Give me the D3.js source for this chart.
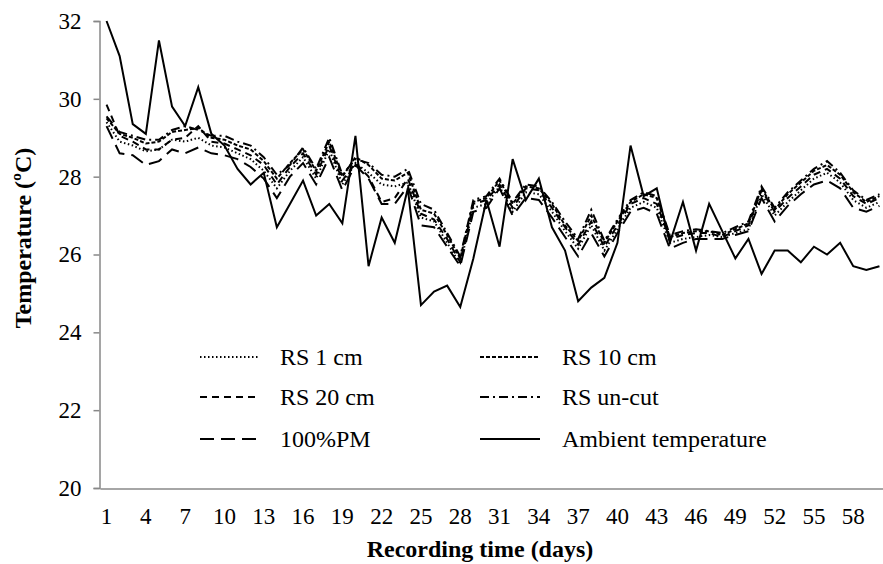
<!DOCTYPE html>
<html><head><meta charset="utf-8">
<script src="https://cdn.jsdelivr.net/npm/d3@7/dist/d3.min.js"></script>
<style>body{margin:0;background:#fff}svg{display:block}</style>
</head><body>
<svg id="c" width="883" height="564"></svg>
<script>
const days = d3.range(1, 61);
const xTickLabels = [1,4,7,10,13,16,19,22,25,28,31,34,37,40,43,46,49,52,55,58];
const yTicks = [20,22,24,26,28,30,32];

const rs1cm = [29.4,28.9,28.8,28.65,28.7,28.95,28.9,29.0,28.8,28.75,28.6,28.45,28.15,27.7,28.15,28.5,27.95,28.7,27.8,28.35,28.1,27.8,27.75,27.85,26.95,26.85,26.3,25.75,27.2,27.3,27.75,27.1,27.6,27.55,27.1,26.6,26.15,26.75,26.1,26.65,27.2,27.35,27.2,26.3,26.4,26.45,26.5,26.45,26.55,26.65,27.55,27.0,27.35,27.65,27.95,28.1,27.85,27.4,27.2,27.35];
const rs10cm = [29.5,29.1,29.0,28.85,28.9,29.15,29.2,29.25,29.0,28.95,28.8,28.7,28.4,27.95,28.35,28.7,28.15,28.9,28.0,28.5,28.3,27.95,27.9,28.1,27.15,27.05,26.5,25.9,27.35,27.45,27.9,27.3,27.75,27.7,27.3,26.75,26.35,27.0,26.3,26.85,27.35,27.55,27.45,26.45,26.55,26.6,26.6,26.5,26.65,26.8,27.7,27.15,27.55,27.85,28.15,28.3,28.05,27.6,27.35,27.5];
const rs20cm = [29.85,29.05,28.9,28.7,28.7,28.95,29.0,29.3,28.9,28.85,28.7,28.55,28.3,27.8,28.25,28.6,28.05,28.8,27.9,28.35,28.0,27.35,27.45,27.95,27.05,26.9,26.4,25.8,27.3,27.4,27.8,27.2,27.7,27.65,27.2,26.7,26.25,26.85,26.2,26.75,27.3,27.45,27.3,26.4,26.5,26.55,26.55,26.45,26.6,26.75,27.65,27.1,27.45,27.75,28.05,28.2,27.95,27.5,27.3,27.45];
const rsUncut = [29.55,29.15,29.05,28.95,28.95,29.2,29.3,29.2,29.05,29.05,28.9,28.8,28.5,28.05,28.3,28.75,28.2,29.0,28.05,28.45,28.35,28.05,28.0,28.2,27.3,27.15,26.55,25.95,27.4,27.5,27.95,27.35,27.8,27.75,27.35,26.85,26.4,27.15,26.35,26.9,27.4,27.6,27.5,26.5,26.6,26.65,26.6,26.55,26.7,26.85,27.75,27.2,27.6,27.9,28.2,28.4,28.1,27.65,27.4,27.55];
const pm100 = [29.3,28.6,28.55,28.3,28.4,28.7,28.6,28.75,28.6,28.55,28.45,28.25,27.95,27.45,28.0,28.35,27.8,28.5,27.65,28.3,27.95,27.3,27.3,27.75,26.75,26.7,26.2,25.7,27.1,27.2,27.7,27.0,27.45,27.4,26.95,26.45,25.95,26.55,25.95,26.55,27.1,27.2,27.05,26.15,26.3,26.4,26.4,26.4,26.5,26.6,27.45,26.85,27.25,27.55,27.8,27.9,27.7,27.2,27.1,27.25];
const ambient = [32.0,31.1,29.35,29.1,31.5,29.8,29.3,30.3,29.1,28.8,28.2,27.8,28.1,26.7,27.3,27.9,27.0,27.3,26.8,29.05,25.7,26.95,26.3,27.7,24.7,25.05,25.2,24.65,25.9,27.4,26.2,28.45,27.4,27.95,26.7,26.1,24.8,25.15,25.4,26.3,28.8,27.5,27.7,26.3,27.35,26.1,27.3,26.6,25.9,26.4,25.5,26.1,26.1,25.8,26.2,26.0,26.3,25.7,25.6,25.7];

const seriesNames = ["RS 1 cm","RS 10 cm","RS 20 cm","RS un-cut","100%PM","Ambient temperature"];
const seriesData = [rs1cm, rs10cm, rs20cm, rsUncut, pm100, ambient];
const dashes = ["1.5,2.5","4,2","7,5","9,4,2,4","14,7",null];
const fam = "Liberation Serif";
const FONT = `"${fam}", monospace`;

const svg = d3.select("#c");
const x = d3.scaleBand().domain(days).range([100, 886]).paddingInner(0).paddingOuter(0);
const y = d3.scaleLinear().domain([20, 32]).range([488, 21]);
const cx = d => x(d) + x.bandwidth()/2;

// Y axis
const yAxis = svg.append("g").attr("transform","translate(99.5,0)")
  .call(d3.axisLeft(y).tickValues(yTicks).tickSize(6).tickPadding(12).tickFormat(d3.format("d")));
yAxis.attr("font-family", null).attr("font-size", null);
yAxis.select(".domain").attr("stroke","#888").attr("stroke-width",1.5);
yAxis.selectAll(".tick line").attr("stroke","#888").attr("stroke-width",1.5);
yAxis.selectAll("text").attr("fill","#000").attr("font-size",23).style("font-family", FONT);

// X axis
const xAxis = svg.append("g").attr("transform","translate(0,488.5)")
  .call(d3.axisBottom(x).tickValues(xTickLabels).tickSize(0).tickPadding(19).tickSizeOuter(0));
xAxis.attr("font-family", null).attr("font-size", null);
xAxis.select(".domain").attr("stroke","#888").attr("stroke-width",1.5);
xAxis.selectAll("text").attr("fill","#000").attr("font-size",23).style("font-family", FONT);

// Lines
const line = d3.line().x((v,i) => cx(days[i])).y(v => y(v));
seriesData.forEach((s,i) => {
  svg.append("path").datum(s).attr("d", line).attr("fill","none")
    .attr("stroke","#000").attr("stroke-width",2)
    .attr("stroke-dasharray", dashes[i]);
});

// Legend
const legX = [200, 480], legTextX = [280, 562], legY = [357, 397, 439];
seriesNames.forEach((name,k) => {
  const col = k % 2, row = Math.floor(k/2);
  svg.append("line").attr("x1",legX[col]).attr("x2",legX[col]+60)
    .attr("y1",legY[row]).attr("y2",legY[row])
    .attr("stroke","#000").attr("stroke-width",2).attr("stroke-dasharray",dashes[k]);
  svg.append("text").attr("x",legTextX[col]).attr("y",legY[row]+8)
    .attr("font-size",24).style("font-family", FONT).text(name);
});

// Axis titles
svg.append("text").attr("x",480).attr("y",557).attr("text-anchor","middle")
  .attr("font-size",24).attr("font-weight","bold").style("font-family", FONT).text("Recording time (days)");
svg.append("text").attr("transform","translate(31,238) rotate(-90)").attr("text-anchor","middle")
  .attr("font-size",24).attr("font-weight","bold").style("font-family", FONT).text("Temperature (ºC)");
</script>
</body></html>
